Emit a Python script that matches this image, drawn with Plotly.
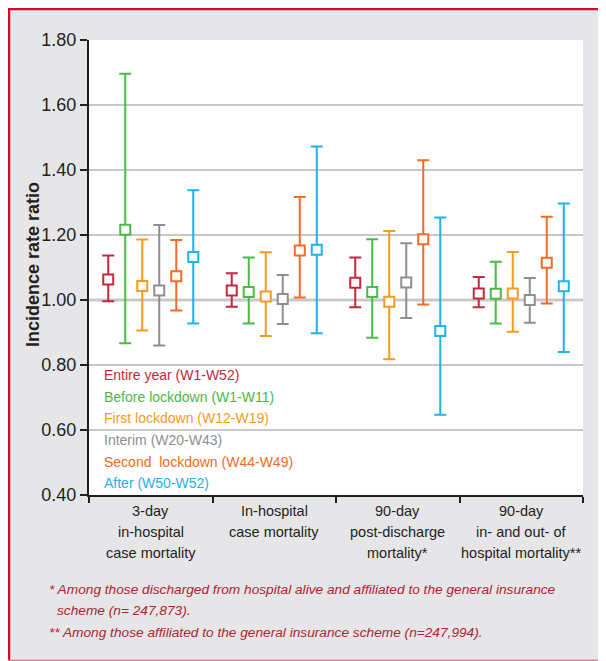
import plotly.graph_objects as go

# ---------------- data ----------------
categories = [
    "3-day<br>in-hospital<br>case mortality",
    "In-hospital<br>case mortality",
    "90-day<br>post-discharge<br>mortality*",
    "90-day<br>in- and out- of<br>hospital mortality**",
]
series_names = [
    "Entire year (W1-W52)",
    "Before lockdown (W1-W11)",
    "First lockdown (W12-W19)",
    "Interim (W20-W43)",
    "Second  lockdown (W44-W49)",
    "After (W50-W52)",
]
entire_est = [1.063, 1.029, 1.053, 1.020]
entire_lo = [0.996, 0.979, 0.978, 0.978]
entire_hi = [1.137, 1.082, 1.131, 1.071]

before_est = [1.216, 1.025, 1.025, 1.019]
before_lo = [0.867, 0.928, 0.884, 0.928]
before_hi = [1.696, 1.131, 1.187, 1.118]

first_est = [1.043, 1.011, 0.995, 1.020]
first_lo = [0.906, 0.889, 0.818, 0.902]
first_hi = [1.186, 1.147, 1.212, 1.148]

interim_est = [1.029, 1.003, 1.054, 1.000]
interim_lo = [0.860, 0.926, 0.945, 0.930]
interim_hi = [1.231, 1.077, 1.175, 1.068]

second_est = [1.073, 1.152, 1.187, 1.115]
second_lo = [0.968, 1.008, 0.986, 0.989]
second_hi = [1.185, 1.317, 1.430, 1.256]

after_est = [1.132, 1.155, 0.905, 1.042]
after_lo = [0.928, 0.898, 0.647, 0.840]
after_hi = [1.338, 1.472, 1.254, 1.297]

y_ticks = [0.40, 0.60, 0.80, 1.00, 1.20, 1.40, 1.60, 1.80]
footnotes = [
    "* Among those discharged from hospital alive and affiliated to the general insurance",
    "scheme (n= 247,873).",
    "** Among those affiliated to the general insurance scheme (n=247,994).",
]

colors = ["#c4283c", "#4cb84a", "#f89a1e", "#8e8e8e", "#f36b25", "#1cb2ec"]
FONT = "Liberation Sans, Arial, sans-serif"
INK = "#231f20"
BORDER = "#c8102e"

series = [
    (entire_est, entire_lo, entire_hi),
    (before_est, before_lo, before_hi),
    (first_est, first_lo, first_hi),
    (interim_est, interim_lo, interim_hi),
    (second_est, second_lo, second_hi),
    (after_est, after_lo, after_hi),
]

# geometry: the page places the figure 8px in (body margin)
OFF = 8
W, H = 606 - OFF, 661 - OFF
PL, PT, PRt, PB = 89, 40, 583, 495          # plot area in page pixels
L, T = PL - OFF, PT - OFF
PW, PH = PRt - PL, PB - PT
R, B = W - L - PW, H - T - PH


def px(xp):
    return (xp - PL) / PW


def py(yp):
    return (PB - yp) / PH


fig = go.Figure()
step = 0.1377
for i, (name, (est, lo, hi)) in enumerate(zip(series_names, series)):
    xs = [c + (i - 2.5) * step for c in range(len(categories))]
    fig.add_trace(go.Scatter(
        x=xs, y=est, mode="markers", name=name, showlegend=False,
        marker=dict(symbol="square", size=10, color="white",
                    line=dict(color=colors[i], width=2)),
        error_y=dict(type="data", symmetric=False,
                     array=[h - e for h, e in zip(hi, est)],
                     arrayminus=[e - l for e, l in zip(est, lo)],
                     color=colors[i], thickness=2, width=6),
    ))

shapes = [
    # white plotting area
    dict(type="rect", xref="paper", yref="paper", layer="below",
         x0=0, x1=1, y0=0, y1=1, fillcolor="white", line=dict(width=0)),
    # red frame: left, top, bottom
    dict(type="line", xref="paper", yref="paper", layer="below",
         x0=px(OFF + 1), x1=px(OFF + 1), y0=py(665), y1=py(OFF),
         line=dict(color=BORDER, width=2.5)),
    dict(type="line", xref="paper", yref="paper", layer="below",
         x0=px(OFF), x1=px(640), y0=py(OFF + 1), y1=py(OFF + 1),
         line=dict(color=BORDER, width=2.5)),
    dict(type="line", xref="paper", yref="paper", layer="below",
         x0=px(OFF), x1=px(640), y0=py(660.5), y1=py(660.5),
         line=dict(color="#e07080", width=1.5)),
    # reference line at 1.00
    dict(type="line", xref="paper", yref="y", layer="below",
         x0=0, x1=1, y0=1.0, y1=1.0, line=dict(color="#9a9a9a", width=2.5)),
]

annotations = []
leg_y = [375, 396.7, 418.3, 440, 461.7, 483.3]
for i, name in enumerate(series_names):
    annotations.append(dict(
        xref="paper", yref="paper", x=px(102), y=py(leg_y[i]),
        xanchor="left", yanchor="middle", showarrow=False,
        text=name.replace("  ", "&nbsp; "),
        font=dict(family=FONT, size=14, color=colors[i])))

# category labels, one line at a time
line_y = [511, 532, 553]
for ci, lab in enumerate(categories):
    for li, part in enumerate(lab.split("<br>")):
        annotations.append(dict(
            xref="x", yref="paper", x=ci, y=py(line_y[li]),
            xanchor="center", yanchor="middle", showarrow=False, text=part,
            font=dict(family=FONT, size=14.5, color=INK)))

annotations.append(dict(
    xref="paper", yref="paper", x=px(33), y=py(265), xanchor="center",
    yanchor="middle", showarrow=False, textangle=-90,
    text="<b>Incidence rate ratio</b>",
    font=dict(family=FONT, size=18, color=INK)))

fn_pos = [(47, 589), (55, 610), (47, 632)]
for (fx, fy), txt in zip(fn_pos, footnotes):
    annotations.append(dict(
        xref="paper", yref="paper", x=px(fx), y=py(fy), xanchor="left",
        yanchor="middle", showarrow=False, text="<i>" + txt + "</i>",
        font=dict(family=FONT, size=13.7, color="#b02330")))

fig.update_layout(
    width=W, height=H,
    margin=dict(l=L, r=R, t=T, b=B, pad=0),
    paper_bgcolor="#e6e6e8", plot_bgcolor="rgba(0,0,0,0)",
    showlegend=False,
    shapes=shapes, annotations=annotations,
    xaxis=dict(
        range=[-0.5, 3.5], tickmode="array",
        tickvals=list(range(len(categories))), ticktext=[""] * len(categories),
        ticks="", showgrid=False, zeroline=False,
        showline=True, linecolor=INK, linewidth=2,
        fixedrange=True,
        minor=dict(tickvals=[-0.5, 0.5, 1.5, 2.5, 3.5], ticks="outside",
                   ticklen=6, tickwidth=2, tickcolor=INK, showgrid=False),
    ),
    yaxis=dict(
        range=[0.4, 1.8], tickmode="array", tickvals=y_ticks,
        ticktext=[f"{v:.2f}" for v in y_ticks],
        ticks="outside", ticklen=7, tickwidth=2, tickcolor=INK,
        showline=True, linecolor=INK, linewidth=2,
        showgrid=True, gridcolor="#c8c8c8", gridwidth=2, zeroline=False,
        tickfont=dict(family=FONT, size=18, color=INK),
    ),
)

fig.write_html("out.html")
